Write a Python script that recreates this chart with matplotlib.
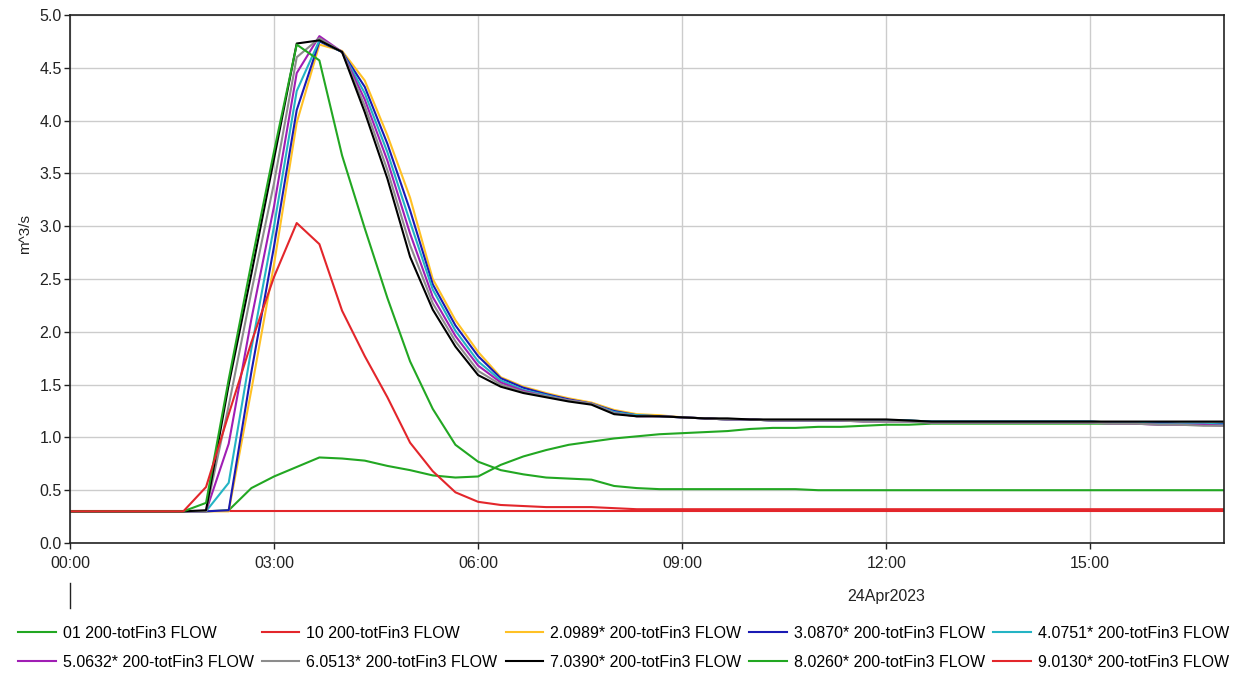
"""Flow hydrographs at 200-totFin3, 24 Apr 2023 (HEC-DSSVue style plot)"""
import pandas as pd
import matplotlib
matplotlib.use("Agg")
import matplotlib.pyplot as plt
import matplotlib.dates as mdates
import matplotlib.transforms as mtransforms

plt.rcParams["font.family"] = ["Liberation Sans", "DejaVu Sans"]

LINE_WIDTH = 1.5
GRID_COLOR = "#cccccc"
TEXT_COLOR = "#222222"

# 20 minute steps, 00:00 .. 17:00
times = pd.date_range("2023-04-24 00:00", periods=52, freq="20min")

labels = [
    "01 200-totFin3 FLOW",
    "10 200-totFin3 FLOW",
    "2.0989* 200-totFin3 FLOW",
    "3.0870* 200-totFin3 FLOW",
    "4.0751* 200-totFin3 FLOW",
    "5.0632* 200-totFin3 FLOW",
    "6.0513* 200-totFin3 FLOW",
    "7.0390* 200-totFin3 FLOW",
    "8.0260* 200-totFin3 FLOW",
    "9.0130* 200-totFin3 FLOW",
]
colors = ["#22a722", "#e3262b", "#ffc125", "#1a1ab4", "#24b4c4",
          "#a01eb4", "#8c8c8c", "#000000", "#22a722", "#e3262b"]

flow_01 = ([0.3] * 7 +
           [0.31, 0.52, 0.63, 0.72, 0.81, 0.80, 0.78, 0.73, 0.69, 0.64,
            0.62, 0.63, 0.74, 0.82, 0.88, 0.93, 0.96, 0.99, 1.01, 1.03,
            1.04, 1.05, 1.06, 1.08, 1.09, 1.09, 1.10, 1.10, 1.11, 1.12,
            1.12] +
           [1.13] * 14)
flow_10 = [0.3] * 52
flow_2 = ([0.3] * 6 +
          [0.30, 0.30, 1.45, 2.64, 3.98, 4.72, 4.66, 4.38, 3.86, 3.27,
           2.50, 2.11, 1.81, 1.57, 1.48, 1.42, 1.37, 1.33, 1.26, 1.22,
           1.21, 1.19, 1.18, 1.17, 1.17] +
          [1.16] * 7 + [1.15] * 8 +
          [1.14, 1.14, 1.14, 1.13, 1.13, 1.13])
flow_3 = ([0.3] * 6 +
          [0.30, 0.31, 1.62, 2.81, 4.10, 4.75, 4.65, 4.32, 3.78, 3.15,
           2.45, 2.06, 1.77, 1.56, 1.47, 1.41, 1.36, 1.32, 1.25, 1.21,
           1.20, 1.19, 1.18, 1.17, 1.17] +
          [1.16] * 7 + [1.15] * 8 +
          [1.14, 1.14, 1.14, 1.13, 1.13, 1.13])
flow_4 = ([0.3] * 6 +
          [0.30, 0.57, 1.84, 3.00, 4.28, 4.76, 4.65, 4.26, 3.70, 3.04,
           2.40, 2.01, 1.72, 1.54, 1.45, 1.40, 1.35, 1.32, 1.24, 1.21,
           1.20, 1.19, 1.18, 1.17, 1.17] +
          [1.16] * 7 + [1.15] * 8 +
          [1.14, 1.14, 1.13, 1.13, 1.13, 1.12])
flow_5 = ([0.3] * 6 +
          [0.30, 0.94, 2.12, 3.19, 4.45, 4.80, 4.65, 4.20, 3.62, 2.93,
           2.33, 1.96, 1.68, 1.52, 1.44, 1.39, 1.35, 1.32, 1.23, 1.20,
           1.20, 1.19, 1.18, 1.17, 1.17, 1.16, 1.16, 1.16, 1.16, 1.15,
           1.15, 1.15] +
          [1.14] * 8 +
          [1.13, 1.13, 1.12, 1.12, 1.12, 1.11])
flow_6 = ([0.3] * 6 +
          [0.30, 1.30, 2.38, 3.41, 4.60, 4.78, 4.65, 4.14, 3.53, 2.82,
           2.27, 1.91, 1.63, 1.50, 1.43, 1.39, 1.35, 1.32, 1.23, 1.20,
           1.20, 1.19, 1.18, 1.17, 1.17, 1.16, 1.16, 1.16, 1.16, 1.15,
           1.15, 1.15] +
          [1.14] * 8 +
          [1.13, 1.13, 1.12, 1.12, 1.11, 1.11])
flow_7 = ([0.3] * 6 +
          [0.31, 1.50, 2.55, 3.64, 4.73, 4.76, 4.65, 4.08, 3.45, 2.71,
           2.21, 1.86, 1.59, 1.48, 1.42, 1.38, 1.34, 1.31, 1.22, 1.20,
           1.20, 1.19, 1.18, 1.18, 1.17, 1.17, 1.17, 1.17, 1.17, 1.17,
           1.17, 1.16] +
          [1.15] * 14)
flow_8 = ([0.3] * 6 +
          [0.38, 1.55, 2.65, 3.71, 4.72, 4.57, 3.67, 2.98, 2.32, 1.72,
           1.27, 0.93, 0.77, 0.69, 0.65, 0.62, 0.61, 0.60, 0.54, 0.52] +
          [0.51] * 7 + [0.50] * 19)
flow_9 = ([0.3] * 6 +
          [0.53, 1.22, 1.90, 2.52, 3.03, 2.83, 2.20, 1.77, 1.38, 0.95,
           0.68, 0.48, 0.39, 0.36, 0.35, 0.34, 0.34, 0.34, 0.33] +
          [0.32] * 27)

series = [flow_01, flow_10, flow_2, flow_3, flow_4,
          flow_5, flow_6, flow_7, flow_8, flow_9]

y_ticks = [0.0, 0.5, 1.0, 1.5, 2.0, 2.5, 3.0, 3.5, 4.0, 4.5, 5.0]


def plot(filename):
    fig = plt.figure(figsize=(12.42, 6.77), dpi=100)
    ax = fig.add_axes([70 / 1242, 134 / 677, 1154 / 1242, 528 / 677])

    handles = []
    for values, c, name in zip(series, colors, labels):
        line, = ax.plot(times, values, color=c, lw=LINE_WIDTH, label=name)
        handles.append(line)

    ax.set_ylim(0, 5)
    ax.set_yticks(y_ticks)
    ax.set_yticklabels(["%.1f" % v for v in y_ticks])
    ax.set_xlim(times[0], pd.Timestamp("2023-04-24 16:58"))
    ax.xaxis.set_major_locator(mdates.HourLocator(byhour=range(0, 24, 3)))
    ax.xaxis.set_major_formatter(mdates.DateFormatter("%H:%M"))
    ax.tick_params(direction="out", length=4, width=1, labelsize=11.5,
                   colors=TEXT_COLOR)
    ax.tick_params(axis="x", pad=5)
    ax.tick_params(axis="y", pad=2)
    ax.grid(True, color=GRID_COLOR, lw=1)
    ax.set_axisbelow(True)
    for side in ax.spines:
        ax.spines[side].set_color(TEXT_COLOR)
        ax.spines[side].set_linewidth(1.2)

    ax.set_ylabel("m^3/s", fontsize=11, color=TEXT_COLOR)
    ax.yaxis.set_label_coords(-0.033, 0.585)

    # day marker and date under the time axis
    ax.plot([0, 0], [-0.076, -0.123], color=TEXT_COLOR, lw=1,
            transform=ax.transAxes, clip_on=False)
    trans = mtransforms.blended_transform_factory(ax.transData, ax.transAxes)
    ax.text(mdates.date2num(pd.Timestamp("2023-04-24 12:00")), -0.102,
            "24Apr2023", transform=trans, ha="center", va="center",
            fontsize=11.5, color=TEXT_COLOR)

    # row-major order for a 2 x 5 legend
    order = [0, 5, 1, 6, 2, 7, 3, 8, 4, 9]
    fig.legend([handles[i] for i in order], [labels[i] for i in order],
               loc="upper left", bbox_to_anchor=(18 / 1242, 1 - 626 / 677),
               ncol=5, frameon=False, fontsize=11.5, borderpad=0,
               borderaxespad=0, handlelength=2.35, handletextpad=0.45,
               columnspacing=0.5, labelspacing=0.85)

    fig.savefig(filename, dpi=100)


if __name__ == "__main__":
    plot("out.png")
